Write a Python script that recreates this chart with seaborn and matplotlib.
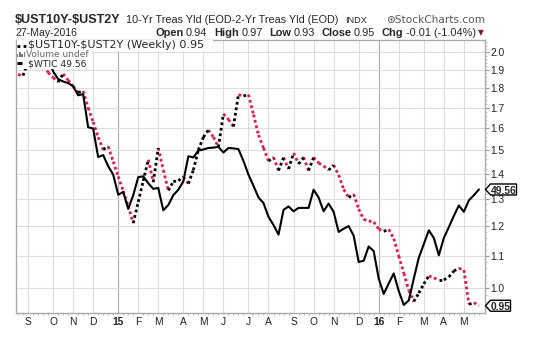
import numpy as np
import pandas as pd
import matplotlib
matplotlib.use("Agg")
import matplotlib.pyplot as plt
import matplotlib.dates as mdates
from matplotlib.lines import Line2D
from matplotlib.patches import Rectangle, Polygon
from matplotlib.ticker import FixedLocator, NullFormatter, NullLocator, FormatStrFormatter
import seaborn as sns

# ---------------------------------------------------------------- data
first_week = "2014-08-18"          # weekly bars, labelled by week start

spread_10y_2y = [
    1.874, 1.868, 1.944, 1.967, 1.984, 1.955, 1.885, 1.857, 1.833, 1.877,
    1.843, 1.811, 1.777, 1.785, 1.699, 1.630, 1.559, 1.503, 1.517, 1.451,
    1.389, 1.331, 1.273, 1.211, 1.289, 1.371, 1.459, 1.366, 1.510, 1.415,
    1.333, 1.368, 1.372, 1.387, 1.360, 1.415, 1.501, 1.559, 1.592, 1.559,
    1.514, 1.669, 1.642, 1.608, 1.766, 1.759, 1.767, 1.666, 1.569, 1.510,
    1.453, 1.469, 1.413, 1.468, 1.420, 1.488, 1.441, 1.469, 1.413, 1.469,
    1.445, 1.432, 1.415, 1.436, 1.395, 1.337, 1.306, 1.318, 1.262, 1.224,
    1.219, 1.215, 1.190, 1.182, 1.189, 1.157, 1.100, 1.045, 0.994, 0.962,
    0.986, 1.013, 1.037, 1.031, 1.025, 1.025, 1.034, 1.052, 1.061, 1.055,
    0.954, 0.959, 0.950,
]

wtic = [
    93.6, 95.3, 93.2, 92.3, 92.3, 93.2, 89.8, 84.6, 81.7, 80.8,
    80.2, 79.1, 75.9, 76.3, 65.7, 65.3, 57.4, 57.9, 55.1, 53.0,
    48.4, 49.0, 45.4, 48.3, 52.4, 52.6, 51.0, 49.7, 49.9, 45.1,
    46.2, 48.3, 49.5, 51.4, 57.6, 57.3, 59.1, 59.4, 59.8, 59.9,
    60.1, 58.6, 59.8, 59.7, 59.5, 56.4, 53.0, 50.4, 47.8, 46.6,
    43.8, 42.2, 40.4, 45.2, 45.9, 44.9, 45.6, 45.6, 45.6, 49.5,
    47.8, 44.9, 46.5, 44.8, 40.9, 41.5, 42.0, 40.2, 35.7, 35.9,
    38.3, 37.5, 33.1, 30.9, 32.4, 33.9, 31.3, 29.4, 30.0, 33.1,
    36.4, 38.7, 41.2, 39.8, 36.8, 39.8, 41.8, 44.0, 46.1, 44.8,
    47.2, 48.3, 49.56,
]

spread_ticks = [1.0, 1.1, 1.2, 1.3, 1.4, 1.5, 1.6, 1.7, 1.8, 1.9, 2.0]
month_labels = ["S", "O", "N", "D", "15", "F", "M", "A", "M", "J", "J",
                "A", "S", "O", "N", "D", "16", "F", "M", "A", "M"]
year_labels = {"15", "16"}

header_title = "$UST10Y-$UST2Y"
header_desc = "10-Yr Treas Yld (EOD-2-Yr Treas Yld (EOD)"
header_date = "27-May-2016"
quote_fields = [("Open", "0.94"), ("High", "0.97"), ("Low", "0.93"),
                ("Close", "0.95"), ("Chg", "-0.01 (-1.04%)")]

# ---------------------------------------------------------------- setup
sns.set_style("white")
plt.rcParams["font.family"] = ["DejaVu Sans"]

W, H = 534, 341
RED = "#e3174a"
GRID = "#dddddd"
FRAME = "#aaaaaa"

dates = pd.date_range(first_week, periods=len(spread_10y_2y), freq="7D")

fig = plt.figure(figsize=(W / 100, H / 100), dpi=100)
fig.patch.set_facecolor("white")
ax_left, ax_right, ax_top, ax_bottom = 16, 485, 39.5, 313
ax = fig.add_axes([ax_left / W, 1 - ax_bottom / H,
                   (ax_right - ax_left) / W, (ax_bottom - ax_top) / H])


def fx(px):
    return px / W


def fy(py):
    return 1 - py / H


# dotted spread line: black on rising weeks, red on falling weeks
rows = []
for k in range(len(dates) - 1):
    move = "up" if spread_10y_2y[k + 1] >= spread_10y_2y[k] else "down"
    rows.append((k, dates[k], spread_10y_2y[k], move))
    rows.append((k, dates[k + 1], spread_10y_2y[k + 1], move))
segs = pd.DataFrame(rows, columns=["seg", "week", "spread", "move"])

sns.lineplot(data=segs, x="week", y="spread", hue="move", units="seg",
             estimator=None, sort=False, legend=False, ax=ax,
             palette={"up": "black", "down": RED},
             linewidth=2.0, linestyle=(0, (1, 1)), dash_capstyle="butt")

ax.set_yscale("log")
ax.set_ylim(0.930, 2.077)
x_lo = dates[0] - pd.Timedelta(days=2.8)
x_hi = dates[-1] + pd.Timedelta(days=8.5)
ax.set_xlim(x_lo, x_hi)

# WTIC overlay on its own hidden log scale
ax2 = ax.twinx()
sns.lineplot(x=dates, y=wtic, color="black", linewidth=1.5, ax=ax2)
ax2.set_yscale("log")
ax2.set_ylim(28.34, 97.7)
ax2.set_xlim(x_lo, x_hi)
ax2.yaxis.set_major_locator(NullLocator())
ax2.yaxis.set_minor_locator(NullLocator())
for s in ax2.spines.values():
    s.set_visible(False)
ax2.set_ylabel("")

# y axis on the right
ax.yaxis.tick_right()
ax.yaxis.set_label_position("right")
ax.yaxis.set_major_locator(FixedLocator(spread_ticks))
ax.yaxis.set_major_formatter(FormatStrFormatter("%.1f"))
ax.yaxis.set_minor_locator(FixedLocator(np.arange(0.94, 2.07, 0.02)))
ax.yaxis.set_minor_formatter(NullFormatter())
ax.tick_params(axis="y", which="major", right=True, left=False, length=3,
               width=0.8, color="#999999", pad=1.0, labelsize=7.4,
               labelcolor="#222222")
ax.tick_params(axis="y", which="minor", right=True, left=False, length=1.5,
               width=0.6, color="#bbbbbb")
for t in ax.get_yticklabels():
    t.set_family("Liberation Sans")

# x axis: one gridline at the first week of every month
first_weeks = [d for d in dates if d.day <= 7]
ax.xaxis.set_major_locator(FixedLocator(mdates.date2num(first_weeks)))
ax.set_xticklabels(month_labels)
ax.xaxis.set_minor_locator(FixedLocator(mdates.date2num(dates)))
ax.tick_params(axis="x", which="major", length=0, pad=3.0, labelsize=7.4,
               labelcolor="#222222")
ax.tick_params(axis="x", which="minor", bottom=True, length=1.5, width=0.6,
               color="#aaaaaa")
for t in ax.get_xticklabels():
    t.set_family("Liberation Sans")
    if t.get_text() in year_labels:
        t.set_fontweight("bold")

ax.set_xlabel("")
ax.set_ylabel("")
ax.grid(True, which="major", color=GRID, linewidth=0.8)
for gl, lab in zip(ax.xaxis.get_gridlines(), month_labels):
    if lab in year_labels:
        gl.set_color("#aaaaaa")
for s in ax.spines.values():
    s.set_visible(True)
    s.set_color(FRAME)
    s.set_linewidth(1.0)

# ---------------------------------------------------------------- header
HF = "Liberation Sans"
renderer = fig.canvas.get_renderer()


def put(px, py, s, **kw):
    t = fig.text(fx(px), fy(py), s, va="baseline", parse_math=False, **kw)
    return t.get_window_extent(renderer).width


put(15, 23, header_title, fontsize=9.1, fontweight="bold", family=HF)
put(126.5, 23, header_desc, fontsize=7.8, family=HF)
put(345.5, 23, "INDX", fontsize=6.6, family=HF)
put(485, 23, "\u229bStockCharts.com", fontsize=7.6, color="#555555",
    ha="right")

put(15.3, 36, header_date, fontsize=7.6, family=HF)

# quote line, laid out left to right so it ends just before the arrow
pieces = []
for lab, val in quote_fields:
    pieces.append((lab, "bold", 2.5))
    pieces.append((val, "normal", 6.5))
widths = []
for s, wgt, gap in pieces:
    probe = fig.text(0, 0, s, fontsize=7.9, fontweight=wgt, family=HF)
    widths.append(probe.get_window_extent(renderer).width)
    probe.remove()
total = sum(widths) + sum(g for _, _, g in pieces[:-1])
x = 476 - total
for (s, wgt, gap), w in zip(pieces, widths):
    put(x, 36, s, fontsize=7.9, fontweight=wgt, family=HF)
    x += w + gap
put(477.5, 35.5, "\u25bc", fontsize=5.5, color="#8b1538")

# ---------------------------------------------------------------- legend
for (x0, y0, x1, y1) in [(16.6, 40.0, 213, 50.5), (16.6, 50.5, 93, 59),
                         (16.6, 59, 88, 68.5)]:
    fig.add_artist(Rectangle((fx(x0), fy(y1)), fx(x1) - fx(x0),
                             fy(y0) - fy(y1), transform=fig.transFigure,
                             facecolor="white", edgecolor="none", zorder=4))
fig.add_artist(Line2D([fx(16.5), fx(26)], [fy(45.5), fy(45.5)],
                      transform=fig.transFigure, color="black",
                      linewidth=2.0, linestyle=(0, (1, 1.2)),
                      dash_capstyle="butt", zorder=5))
t = fig.text(fx(28), fy(48), "$UST10Y-$UST2Y (Weekly) 0.95", fontsize=8.0,
             va="baseline", zorder=6, parse_math=False)
for bx, bh in zip([17.0, 19.2, 21.4, 23.6], [3.0, 5.5, 3.5, 5.0]):
    fig.add_artist(Rectangle((fx(bx), fy(57)), 1.3 / W, bh / H,
                             transform=fig.transFigure, facecolor="#777777",
                             edgecolor="none", zorder=5))
fig.text(fx(26.5), fy(57), "Volume undef", fontsize=6.5, color="#666666",
         va="baseline", zorder=6)
fig.add_artist(Line2D([fx(16.5), fx(22)], [fy(63.3), fy(63.3)],
                      transform=fig.transFigure, color="black",
                      linewidth=2.2, solid_capstyle="butt", zorder=5))
fig.text(fx(27.5), fy(67), "$WTIC 49.56", fontsize=6.6, va="baseline",
         zorder=6, parse_math=False)


# ---------------------------------------------------------------- value tags
def value_tag(ypx, text, width):
    x0 = 485.5
    pts = [(x0, ypx), (x0 + 5, ypx - 5.5), (x0 + width, ypx - 5.5),
           (x0 + width, ypx + 5.5), (x0 + 5, ypx + 5.5)]
    fig.add_artist(Polygon([(fx(a), fy(b)) for a, b in pts], closed=True,
                           transform=fig.transFigure, facecolor="white",
                           edgecolor="black", linewidth=1.0, zorder=5))
    fig.text(fx(x0 + 5 + (width - 5) / 2), fy(ypx + 0.3), text,
             fontsize=7.4, fontweight="bold", family=HF, ha="center",
             va="center_baseline", zorder=6)


last_x = mdates.date2num(dates[-1])
y_wtic = H - ax2.transData.transform((last_x, wtic[-1]))[1]
y_spread = H - ax.transData.transform((last_x, spread_10y_2y[-1]))[1]
value_tag(y_wtic, f"{wtic[-1]:.2f}", 31)
value_tag(y_spread, f"{spread_10y_2y[-1]:.2f}", 25)

fig.savefig("out.png", dpi=100, facecolor="white")
